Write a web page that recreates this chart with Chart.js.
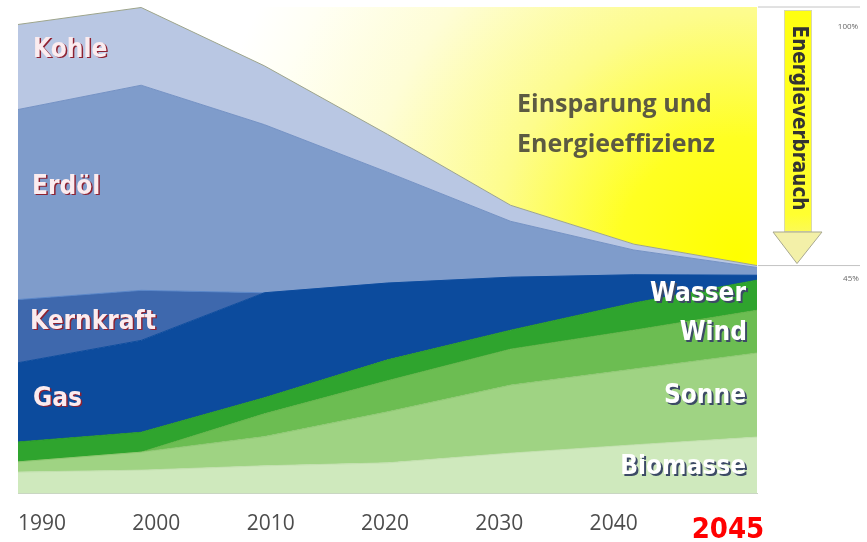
<!DOCTYPE html>
<html>
<head>
<meta charset="utf-8">
<script src="https://cdn.jsdelivr.net/npm/chart.js@4.4.0/dist/chart.umd.min.js"></script>
<style>
    html, body { margin: 0; padding: 0; background: #fff; }
    #wrap { width: 867px; height: 542px; position: relative; }
</style>
</head>
<body>
<div id="wrap"><canvas id="energyChart"></canvas></div>
<script>
// Anteile am Energieverbrauch (Prozent, 2000 = 100)
const years = [1990, 2000, 2010, 2020, 2030, 2040, 2050];
const biomasse = [4.3, 4.7, 5.6, 6.2, 8.2, 9.9, 11.5];
const sonne = [2.1, 3.7, 6.0, 10.5, 14.0, 15.6, 17.3];
const wind = [0, 0, 4.7, 6.4, 7.4, 8.0, 8.8];
const wasser = [4.1, 4.1, 3.3, 4.3, 3.9, 5.6, 6.2];
const gas = [16.3, 18.9, 21.6, 15.8, 10.9, 5.8, 1.0];
const kernkraft = [13.0, 10.3, 0, 0, 0, 0, 0];
const erdoel = [39.1, 42.2, 34.6, 22.8, 11.5, 5.1, 1.6];
const kohle = [17.5, 16.0, 12.1, 7.8, 3.3, 1.2, 0.4];
const reference = [100, 100, 100, 100, 100, 100, 100];
const tickLabels = ['1990', '2000', '2010', '2020', '2030', '2040', '2045'];

const condensed = '"DejaVu Sans Condensed", "Open Sans", sans-serif';

function series(values) {
    return years.map((yr, i) => ({ x: yr, y: values[i] }));
}

function layer(label, values, color, line, fill) {
    return {
        label: label,
        data: series(values),
        backgroundColor: color,
        borderColor: line,
        borderWidth: 1,
        fill: fill,
        pointRadius: 0,
        stack: 'energie'
    };
}

function savingsFill(c) {
    const area = c.chart.chartArea;
    if (!area) return '#ffffc0';
    const cx = area.right - 20, cy = area.top + 250;
    const g = c.chart.ctx.createRadialGradient(cx, cy, 0, cx, cy, 540);
    g.addColorStop(0, '#ffff00');
    g.addColorStop(0.22, '#ffff22');
    g.addColorStop(0.45, '#fdfc8c');
    g.addColorStop(0.7, '#fefdd6');
    g.addColorStop(0.9, '#fffff4');
    g.addColorStop(1, '#ffffff');
    return g;
}

function shadowText(ctx, text, x, y, fill, shade, off) {
    ctx.fillStyle = shade;
    ctx.fillText(text, x + off, y + off);
    ctx.fillStyle = fill;
    ctx.fillText(text, x, y);
}

const annotations = {
    id: 'annotations',
    afterDraw(chart) {
        const ctx = chart.ctx;
        const area = chart.chartArea;
        const L = area.left, R = area.right;
        ctx.save();
        ctx.textBaseline = 'middle';

        // fossil labels
        ctx.font = 'bold 26px ' + condensed;
        ctx.textAlign = 'left';
        shadowText(ctx, 'Kohle', L + 15, 50, '#fbecef', '#8e2232', 1.5);
        shadowText(ctx, 'Erdöl', L + 14, 187, '#fbecef', '#8e2232', 1.5);
        shadowText(ctx, 'Kernkraft', L + 12, 322, '#fbecef', '#8e2232', 1.5);
        shadowText(ctx, 'Gas', L + 15, 399, '#fbecef', '#8e2232', 1.5);

        // renewable labels
        ctx.textAlign = 'right';
        shadowText(ctx, 'Wasser', R - 11, 294, '#ffffff', '#3c4a66', 2);
        shadowText(ctx, 'Wind', R - 10, 333, '#ffffff', '#3c4a66', 2);
        shadowText(ctx, 'Sonne', R - 11, 396, '#ffffff', '#3c4a66', 2);
        shadowText(ctx, 'Biomasse', R - 11, 467, '#ffffff', '#3c4a66', 2);

        // savings text
        ctx.textAlign = 'left';
        ctx.font = 'bold 25px "Open Sans", sans-serif';
        ctx.fillStyle = '#5c5a42';
        ctx.fillText('Einsparung und', 517, 105);
        ctx.fillText('Energieeffizienz', 517, 145);

        // reference lines 100% / 45%
        const yTop = chart.scales.y.getPixelForValue(100);
        const kMeta = chart.getDatasetMeta(7);
        const yEnd = kMeta.data[kMeta.data.length - 1].y;
        ctx.strokeStyle = '#c4c4c4';
        ctx.lineWidth = 1;
        ctx.beginPath();
        ctx.moveTo(R + 1, yTop); ctx.lineTo(860, yTop);
        ctx.moveTo(R + 1, yEnd); ctx.lineTo(860, yEnd);
        ctx.stroke();
        ctx.font = '8px "Open Sans", sans-serif';
        ctx.fillStyle = '#666';
        ctx.textAlign = 'center';
        ctx.fillText('100%', 848, yTop + 20);
        ctx.fillText('45%', 851, yEnd + 13);

        // Energieverbrauch arrow
        const g = ctx.createLinearGradient(0, yTop + 3, 0, yEnd);
        g.addColorStop(0, '#ffff10');
        g.addColorStop(0.8, '#ffff30');
        g.addColorStop(1, '#f4f0a0');
        ctx.fillStyle = g;
        ctx.fillRect(784, yTop + 3, 28, 222);
        ctx.strokeStyle = '#d8d8b0';
        ctx.strokeRect(784.5, yTop + 3.5, 27, 221);
        ctx.beginPath();
        ctx.moveTo(773, yTop + 225);
        ctx.lineTo(822, yTop + 225);
        ctx.lineTo(797, yEnd - 2);
        ctx.closePath();
        ctx.fillStyle = '#f3f0a8';
        ctx.fill();
        ctx.strokeStyle = '#a8a890';
        ctx.stroke();
        ctx.translate(798, 118);
        ctx.rotate(Math.PI / 2);
        ctx.font = 'bold 20.5px ' + condensed;
        ctx.fillStyle = '#333';
        ctx.fillText('Energieverbrauch', 0, 0);
        ctx.restore();
    }
};

const lastTick = tickLabels.length - 1;

new Chart(document.getElementById('energyChart'), {
    type: 'line',
    data: {
        datasets: [
            layer('Biomasse', biomasse, '#cfe9bd', '#c2e0ae', 'origin'),
            layer('Sonne', sonne, '#9fd383', '#8fc873', '-1'),
            layer('Wind', wind, '#6cbd52', '#62b348', '-1'),
            layer('Wasser', wasser, '#2fa42e', '#2a9a2a', '-1'),
            layer('Gas', gas, '#0c4b9d', '#0c4b9d', '-1'),
            layer('Kernkraft', kernkraft, '#3e68ad', '#5a86c8', '-1'),
            layer('Erdöl', erdoel, '#7f9ccb', '#7592c4', '-1'),
            layer('Kohle', kohle, '#b9c7e3', '#9ea58c', '-1'),
            {
                label: 'Einsparung und Energieeffizienz',
                data: series(reference),
                backgroundColor: savingsFill,
                borderWidth: 0,
                fill: '-1',
                pointRadius: 0,
                stack: 'ref'
            }
        ]
    },
    options: {
        responsive: true,
        maintainAspectRatio: false,
        animation: false,
        layout: { padding: { left: 18, right: 110, top: 7, bottom: 0 } },
        plugins: {
            legend: { display: false },
            tooltip: { enabled: false }
        },
        scales: {
            x: { type: 'linear', min: 1990, max: 2050, display: false },
            xl: {
                type: 'linear',
                position: 'bottom',
                min: -0.21,
                max: 6.254,
                grid: { display: false },
                border: { display: true, color: '#c9d6c2' },
                afterBuildTicks(scale) {
                    scale.ticks = tickLabels.map((t, i) => ({ value: i }));
                },
                afterFit(scale) {
                    scale.height = 49;
                },
                ticks: {
                    autoSkip: false,
                    maxRotation: 0,
                    padding: 10,
                    callback: (v) => tickLabels[v],
                    color: (c) => c.index === lastTick ? '#ff0000' : '#4d4d4d',
                    font: (c) => c.index === lastTick
                        ? { family: condensed, size: 29, weight: 'bold', lineHeight: 1.31 }
                        : { family: '"Open Sans", sans-serif', size: 21, lineHeight: 1.2 }
                }
            },
            y: { stacked: true, min: 0, max: 100, display: false }
        }
    },
    plugins: [annotations]
});
</script>
</body>
</html>
